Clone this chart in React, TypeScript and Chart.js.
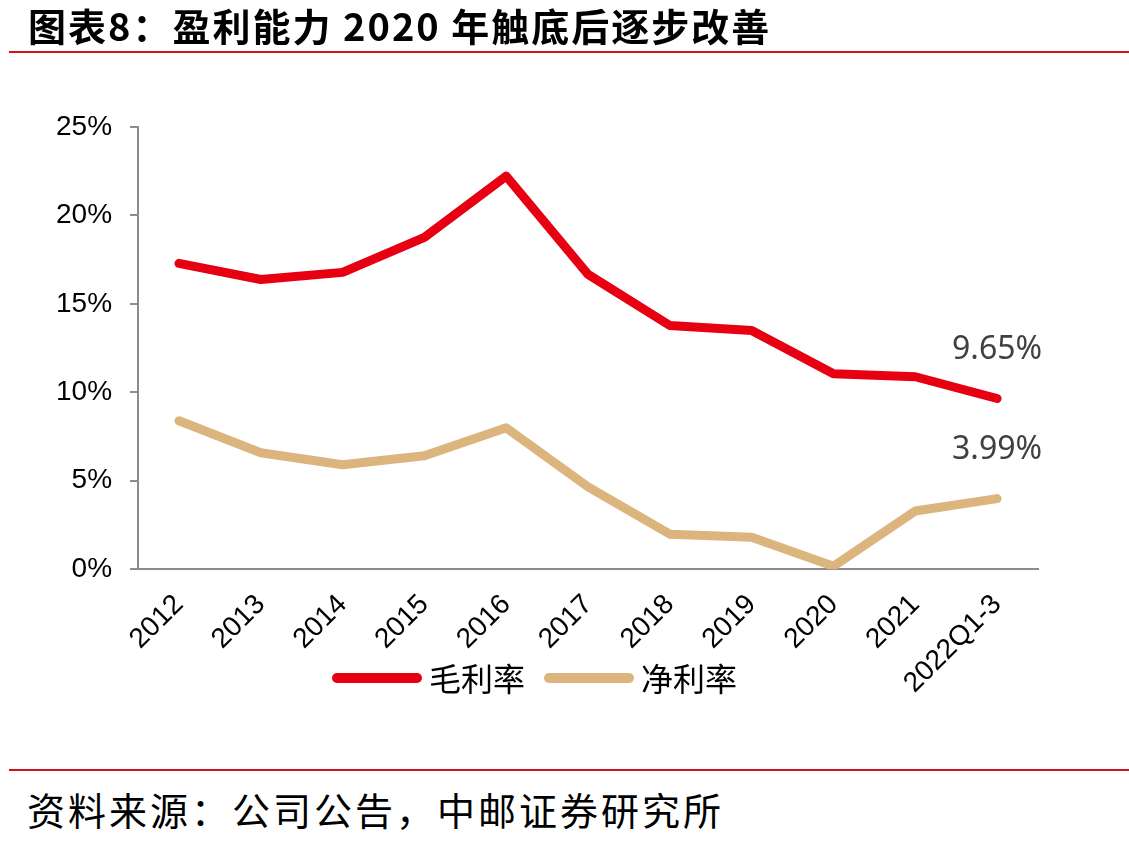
import React, { useEffect, useRef } from "react";
import { Chart, registerables } from "chart.js";

Chart.register(...registerables);

const categories = ["2012", "2013", "2014", "2015", "2016", "2017", "2018", "2019", "2020", "2021", "2022Q1-3"];
const grossMargin = [17.29, 16.38, 16.78, 18.76, 22.22, 16.67, 13.78, 13.49, 11.05, 10.88, 9.65];
const netMargin = [8.39, 6.58, 5.9, 6.41, 7.99, 4.65, 1.98, 1.81, 0.17, 3.29, 3.99];
const seriesNames = ["毛利率", "净利率"];
const endLabels = ["9.65%", "3.99%"];
const yMin = 0;
const yMax = 25;
const yStep = 5;

const titleText = "图表8：盈利能力 2020 年触底后逐步改善";
const sourceText = "资料来源：公司公告，中邮证券研究所";

const RED = "#E60012";
const TAN = "#DCB47D";
const AXIS = "#8C8C8C";

const endLabelPlugin = {
  id: "endLabels",
  afterDatasetsDraw(chart: any) {
    const ctx = chart.ctx;
    ctx.save();
    ctx.font = "32px 'Noto Sans'";
    ctx.fillStyle = "#404040";
    ctx.textAlign = "center";
    ctx.textBaseline = "middle";
    chart.data.datasets.forEach((_ds: any, i: number) => {
      const meta = chart.getDatasetMeta(i);
      const pt = meta.data[meta.data.length - 1];
      ctx.fillText(endLabels[i], pt.x, pt.y - 49);
    });
    ctx.restore();
  },
};

const legendPlugin = {
  id: "customLegend",
  afterDraw(chart: any) {
    const ctx = chart.ctx;
    const lineLen = 80;
    const gapToText = 12;
    const itemGap = 24;
    const centerX = 537;
    const y = 678;
    ctx.save();
    ctx.font = "32px 'Noto Sans CJK SC', sans-serif";
    const items = chart.data.datasets.map((ds: any) => ({
      label: ds.label,
      color: ds.borderColor,
      tw: ctx.measureText(ds.label).width,
    }));
    let total = 0;
    items.forEach((it: any, i: number) => {
      total += lineLen + gapToText + it.tw + (i > 0 ? itemGap : 0);
    });
    let x = centerX - total / 2;
    items.forEach((it: any) => {
      ctx.beginPath();
      ctx.strokeStyle = it.color;
      ctx.lineWidth = 10;
      ctx.lineCap = "round";
      ctx.moveTo(x, y);
      ctx.lineTo(x + lineLen, y);
      ctx.stroke();
      ctx.fillStyle = "#000";
      ctx.textAlign = "left";
      ctx.textBaseline = "middle";
      ctx.fillText(it.label, x + lineLen + gapToText, y + 1);
      x += lineLen + gapToText + it.tw + itemGap;
    });
    ctx.restore();
  },
};

function LineChart() {
  const ref = useRef<HTMLCanvasElement | null>(null);
  useEffect(() => {
    if (!ref.current) return;
    const tickFont = { family: "'Liberation Sans', Arial, sans-serif", size: 28 };
    const chart = new Chart(ref.current, {
      type: "line",
      data: {
        labels: categories,
        datasets: [
          {
            label: seriesNames[0],
            data: grossMargin,
            borderColor: RED,
            backgroundColor: RED,
            borderWidth: 9,
            borderCapStyle: "round",
            borderJoinStyle: "round",
            pointRadius: 0,
            tension: 0,
          },
          {
            label: seriesNames[1],
            data: netMargin,
            borderColor: TAN,
            backgroundColor: TAN,
            borderWidth: 9,
            borderCapStyle: "round",
            borderJoinStyle: "round",
            pointRadius: 0,
            tension: 0,
          },
        ],
      },
      options: {
        responsive: false,
        animation: false,
        devicePixelRatio: 1,
        layout: { padding: { top: 127, left: 38, right: 36, bottom: 21 } },
        plugins: {
          tooltip: { enabled: false },
          legend: { display: false },
        },
        scales: {
          x: {
            offset: true,
            grid: { display: true, drawOnChartArea: false, drawTicks: false },
            border: { display: true, color: AXIS, width: 2 },
            ticks: {
              minRotation: 45,
              maxRotation: 45,
              autoSkip: false,
              padding: 19,
              color: "#000",
              font: tickFont,
            },
          },
          y: {
            min: yMin,
            max: yMax,
            grid: { display: true, drawOnChartArea: false, drawTicks: true, tickLength: 8, color: AXIS, lineWidth: 2 },
            border: { display: true, color: AXIS, width: 2 },
            ticks: {
              stepSize: yStep,
              padding: 18,
              color: "#000",
              font: tickFont,
              callback: (v: any) => v + "%",
            },
          },
        },
      },
      plugins: [endLabelPlugin, legendPlugin],
    } as any);
    return () => chart.destroy();
  }, []);
  return <canvas ref={ref} width={1074} height={740} style={{ position: "absolute", left: 0, top: 0 }} />;
}

export default function App() {
  return (
    <div style={{ position: "absolute", left: 0, top: 0, width: 1129, height: 845, background: "#fff", overflow: "hidden" }}>
      <LineChart />
      <div
        style={{
          position: "absolute",
          left: 28,
          top: 4,
          fontFamily: "'Noto Sans CJK SC', sans-serif",
          fontWeight: 700,
          fontSize: 38,
          lineHeight: "42px",
          letterSpacing: 2,
          whiteSpace: "nowrap",
          color: "#000",
        }}
      >
        {titleText}
      </div>
      <div style={{ position: "absolute", left: 9, top: 51, width: 1120, height: 2, background: "#D2101E" }} />
      <div style={{ position: "absolute", left: 9, top: 769, width: 1120, height: 2, background: "#D2101E" }} />
      <div
        style={{
          position: "absolute",
          left: 27,
          top: 787,
          fontFamily: "'Noto Sans CJK SC', sans-serif",
          fontWeight: 400,
          fontSize: 38,
          lineHeight: "44px",
          letterSpacing: 3,
          whiteSpace: "nowrap",
          color: "#000",
        }}
      >
        {sourceText}
      </div>
    </div>
  );
}
